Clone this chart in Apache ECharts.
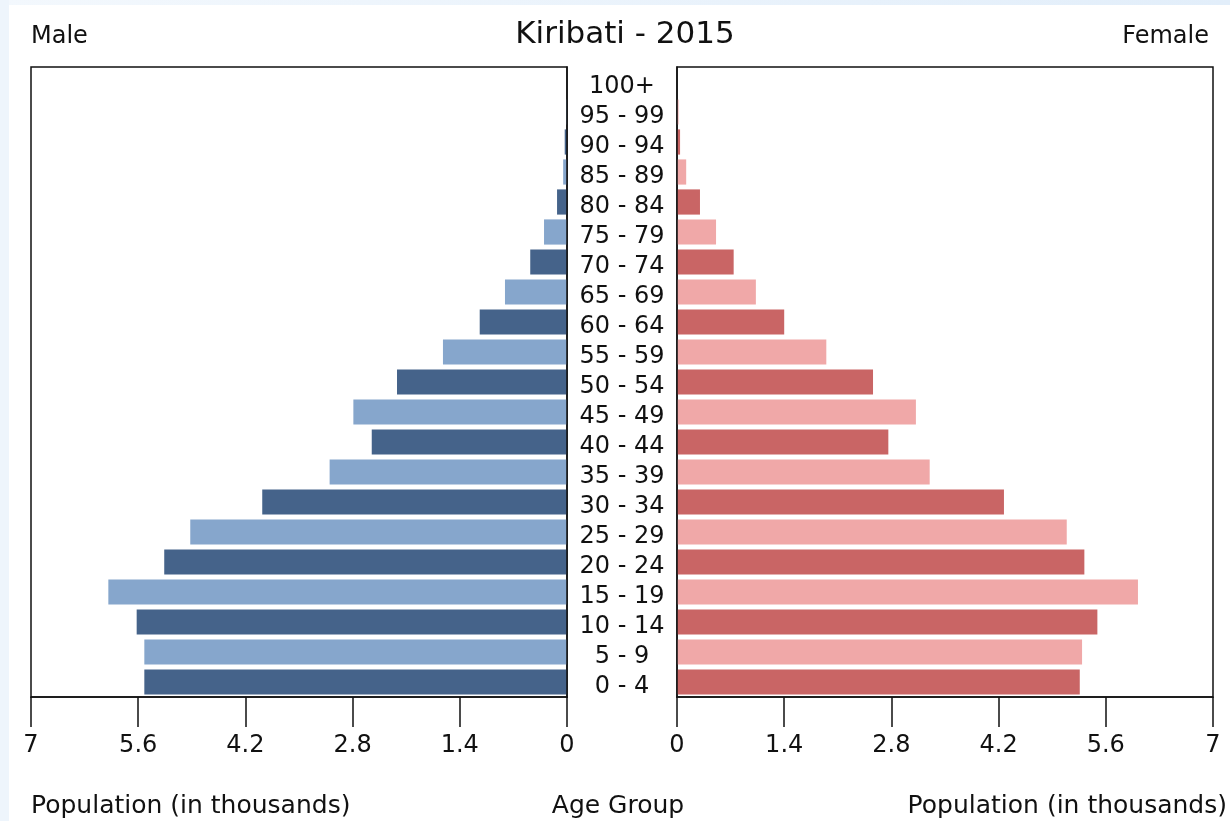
<!DOCTYPE html>
<html>
<head>
<meta charset="utf-8">
<script src="https://cdn.jsdelivr.net/npm/echarts@6/dist/echarts.min.js"></script>
<style>
html,body{margin:0;padding:0;background:#fff;}
#chart{width:1230px;height:821px;}
</style>
</head>
<body>
<div id="chart"></div>
<script>
// ---- data ----
const ageGroups = ['0 - 4','5 - 9','10 - 14','15 - 19','20 - 24','25 - 29','30 - 34','35 - 39','40 - 44','45 - 49','50 - 54','55 - 59','60 - 64','65 - 69','70 - 74','75 - 79','80 - 84','85 - 89','90 - 94','95 - 99','100+'];
const male   = [5.52,5.52,5.62,5.99,5.26,4.92,3.98,3.10,2.55,2.79,2.22,1.62,1.14,0.81,0.48,0.30,0.13,0.05,0.03,0.01,0];
const female = [5.26,5.29,5.49,6.02,5.32,5.09,4.27,3.30,2.76,3.12,2.56,1.95,1.40,1.03,0.74,0.51,0.30,0.12,0.04,0.02,0];
const xTickValues = [0,1.4,2.8,4.2,5.6,7];
const xTickLabels = ['0','1.4','2.8','4.2','5.6','7'];
const titleText = 'Kiribati - 2015';

const FONT = 'DejaVu Sans';
const maleColors = ['#45638a','#86a6cc'];
const femaleColors = ['#c96565','#f0a8a8'];

function tickFmt(v){
  let best = 0, bd = Infinity;
  xTickValues.forEach((t,i)=>{ const d = Math.abs(t - v); if (d < bd){bd = d; best = i;} });
  return xTickLabels[best];
}

const chart = echarts.init(document.getElementById('chart'), null, {renderer:'canvas'});

const commonX = {
  type:'value', min:0, max:7, interval:1.4,
  splitLine:{show:false},
  axisLine:{show:true, lineStyle:{color:'#111', width:1.5}},
  axisTick:{show:true, inside:false, length:30, lineStyle:{color:'#111', width:1.5}},
  axisLabel:{formatter:tickFmt, fontFamily:FONT, fontSize:24, color:'#111', margin:37}
};

const option = {
  backgroundColor:'#ffffff',
  animation:false,
  grid:[
    {left:31, right:1230-567, top:67, bottom:821-697, show:true, borderColor:'#111', borderWidth:1.5, backgroundColor:'transparent'},
    {left:677, right:1230-1213, top:67, bottom:821-697, show:true, borderColor:'#111', borderWidth:1.5, backgroundColor:'transparent'}
  ],
  xAxis:[
    Object.assign({gridIndex:0, inverse:true}, commonX),
    Object.assign({gridIndex:1}, commonX)
  ],
  yAxis:[
    {type:'category', gridIndex:0, data:ageGroups, position:'right', z:10,
     axisLine:{show:true, lineStyle:{color:'#111', width:1.5}}, axisTick:{show:false}, axisLabel:{show:false}, splitLine:{show:false}},
    {type:'category', gridIndex:1, data:ageGroups, position:'left', z:10,
     axisLine:{show:true, lineStyle:{color:'#111', width:1.5}}, axisTick:{show:false}, splitLine:{show:false},
     axisLabel:{show:true, align:'center', margin:55, interval:0,
       formatter:(v)=>'{a|' + v + '}',
       rich:{a:{fontFamily:FONT, fontSize:24, color:'#111', padding:[10,0,0,0], align:'center'}}}}
  ],
  series:[
    {type:'bar', name:'Male', xAxisIndex:0, yAxisIndex:0, data:male, barCategoryGap:'16%',
     itemStyle:{color:(p)=>maleColors[p.dataIndex % 2]}},
    {type:'bar', name:'Female', xAxisIndex:1, yAxisIndex:1, data:female, barCategoryGap:'16%',
     itemStyle:{color:(p)=>femaleColors[p.dataIndex % 2]}}
  ],
  graphic:[
    {type:'rect', left:0, top:0, shape:{width:1230, height:5}, z:-10,
     style:{fill:new echarts.graphic.LinearGradient(0,0,1,0,[{offset:0,color:'#f3f8fd'},{offset:1,color:'#e2eefa'}])}},
    {type:'rect', left:0, top:0, shape:{width:9, height:821}, z:-10, style:{fill:'#eef5fc'}},
    {type:'text', x:625, y:35, style:{text:titleText, font:'31px "DejaVu Sans"', fill:'#111', textAlign:'center', textVerticalAlign:'middle'}},
    {type:'text', x:31, y:37, style:{text:'Male', font:'24px "DejaVu Sans"', fill:'#111', textAlign:'left', textVerticalAlign:'middle'}},
    {type:'text', x:1209, y:37, style:{text:'Female', font:'24px "DejaVu Sans"', fill:'#111', textAlign:'right', textVerticalAlign:'middle'}},
    {type:'text', x:31, y:806, style:{text:'Population (in thousands)', font:'25px "DejaVu Sans"', fill:'#111', textAlign:'left', textVerticalAlign:'middle'}},
    {type:'text', x:618, y:806, style:{text:'Age Group', font:'25px "DejaVu Sans"', fill:'#111', textAlign:'center', textVerticalAlign:'middle'}},
    {type:'text', x:1227, y:806, style:{text:'Population (in thousands)', font:'25px "DejaVu Sans"', fill:'#111', textAlign:'right', textVerticalAlign:'middle'}}
  ]
};
chart.setOption(option);
</script>
</body>
</html>
